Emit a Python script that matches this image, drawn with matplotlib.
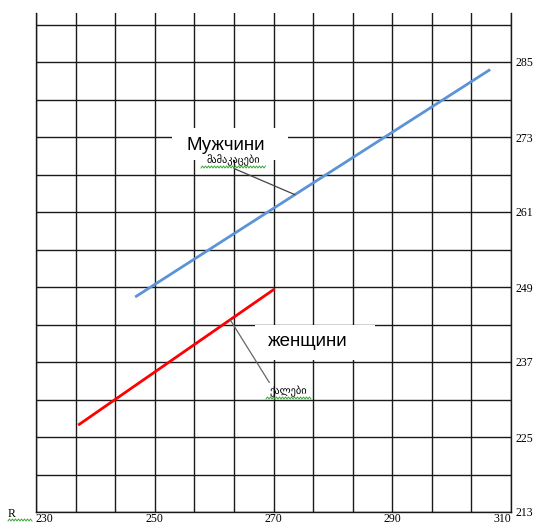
import numpy as np
import matplotlib
matplotlib.use("Agg")
import matplotlib.pyplot as plt
from matplotlib.patches import Rectangle

# ---- data ----
men_x = [246.7, 306.5]
men_y = [247.4, 283.8]
women_x = [237.1, 270.2]
women_y = [226.9, 248.7]
x_major = [230, 250, 270, 290, 310]
y_major = [213, 225, 237, 249, 261, 273, 285]
label_men = "Мужчини"
label_women = "женщини"
sub_men = "მამაკაცები"
sub_women = "ქალები"

W, H = 536, 524
fig = plt.figure(figsize=(W / 100, H / 100), dpi=100)
ax = fig.add_axes([36 / W, 1 - 512 / H, 475 / W, 499 / H])

ax.set_xlim(230, 310)
ax.set_ylim(213, 292.84)

ax.set_xticks(x_major)
ax.set_xticks(np.arange(230, 310.01, 80 / 12), minor=True)
ax.set_yticks(y_major)
ax.set_yticks(np.arange(213, 292, 6), minor=True)
ax.grid(True, which="both", color="#1a1a1a", lw=1.0)
ax.set_axisbelow(True)

for s in ["left", "right", "bottom"]:
    ax.spines[s].set_color("#1a1a1a")
    ax.spines[s].set_linewidth(1.0)
ax.spines["top"].set_visible(False)

ax.tick_params(which="both", length=0)
ax.yaxis.tick_right()
ax.tick_params(axis="y", pad=3, labelsize=8.5)
ax.tick_params(axis="x", pad=0.5, labelsize=8.5)
ax.set_yticklabels([str(v) for v in y_major], fontfamily="Liberation Serif")
xl = ax.set_xticklabels([str(v) for v in x_major], fontfamily="Liberation Serif")
xl[0].set_ha("left")
xl[-1].set_ha("right")

ax.plot(men_x, men_y, color="#5b93d9", lw=2.0, solid_capstyle="butt", zorder=4)
ax.plot(women_x, women_y, color="#ff0000", lw=2.0, solid_capstyle="butt", zorder=4)

def fx(px):
    return px / W

def fy(py):
    return 1 - py / H

# white label boxes
for (x0, y0, x1, y1) in [(172, 128, 288, 160), (255, 325, 375, 360)]:
    r = Rectangle((fx(x0), fy(y1)), (x1 - x0) / W, (y1 - y0) / H,
                  transform=fig.transFigure, facecolor="white",
                  edgecolor="none", zorder=5, clip_on=False)
    ax.add_patch(r)

fig.text(fx(226), fy(145), label_men, ha="center", va="center",
         fontsize=13.5, fontfamily="Liberation Sans", zorder=6)
fig.text(fx(308), fy(342), label_women, ha="center", va="center",
         fontsize=13.5, fontfamily="Liberation Sans", zorder=6)

# small sub-labels with leader lines
mx = 273.6
ax.annotate(sub_men, xy=(mx, np.interp(mx, men_x, men_y)), xycoords="data",
            xytext=(fx(233), fy(160)), textcoords="figure fraction",
            ha="center", va="center", fontsize=7.5, fontfamily="DejaVu Sans",
            zorder=7,
            arrowprops=dict(arrowstyle="-", color="#444444", lw=0.9,
                            shrinkA=0, shrinkB=0, relpos=(0.4, 0.0)))
wx = 262.7
ax.annotate(sub_women, xy=(wx, np.interp(wx, women_x, women_y)), xycoords="data",
            xytext=(fx(288), fy(391)), textcoords="figure fraction",
            ha="center", va="center", fontsize=7.5, fontfamily="DejaVu Sans",
            zorder=7,
            arrowprops=dict(arrowstyle="-", color="#666666", lw=0.9,
                            shrinkA=0, shrinkB=0, relpos=(0.05, 1.0)))

# green spelling squiggles
def squiggle(x0, x1, y):
    xs = np.arange(x0, x1 + 0.1, 1.5)
    ys = y + 1.0 * np.where(np.arange(len(xs)) % 2 == 0, 1, -1)
    fig.add_artist(plt.Line2D([fx(v) for v in xs], [fy(v) for v in ys],
                              transform=fig.transFigure, color="#3aa63a",
                              lw=0.7, zorder=8))

squiggle(201, 266, 167)
squiggle(266, 312, 398)
squiggle(8, 32, 520)

fig.text(fx(8), fy(514), "R", ha="left", va="center", fontsize=8.5,
         fontfamily="Liberation Serif")

fig.savefig("out.png", dpi=100)
